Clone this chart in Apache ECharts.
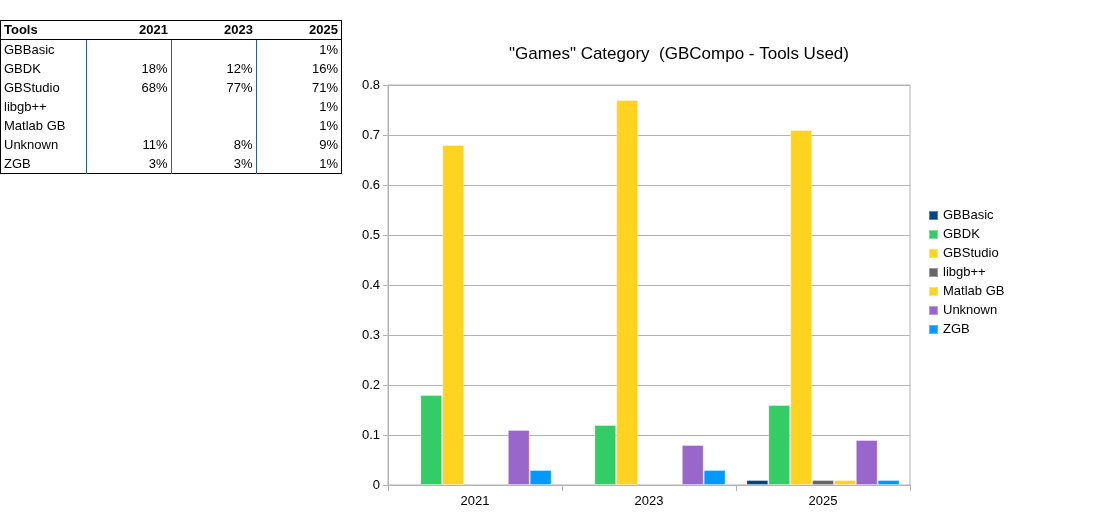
<!DOCTYPE html>
<html>
  <head>
    <meta charset="utf-8" />
    <title>Games Category (GBCompo - Tools Used)</title>
    <script src="https://cdn.jsdelivr.net/npm/echarts@6/dist/echarts.min.js"></script>
    <style>
      * {
        padding: 0;
        margin: 0;
      }
      body {
        width: 1109px;
        height: 527px;
        background: #fff;
        position: relative;
        font-family: "Liberation Sans", Arial, sans-serif;
      }
      #chart-panel {
        position: absolute;
        left: 0;
        top: 0;
        width: 1109px;
        height: 527px;
      }
      #data-table {
        position: absolute;
        left: 0;
        top: 20px;
        border-collapse: collapse;
        border: 1.5px solid #000;
        font-size: 13px;
        color: #000;
      }
      #data-table td,
      #data-table th {
        height: 19px;
        padding: 0 3px;
        line-height: 19px;
        white-space: nowrap;
      }
      #data-table th {
        height: 18px;
        line-height: 18px;
        border-bottom: 1.5px solid #000;
        text-align: right;
      }
      #data-table th:first-child,
      #data-table td:first-child {
        text-align: left;
      }
      #data-table td {
        text-align: right;
        border-left: 1px solid #2b5d8f;
      }
      #data-table td:first-child {
        border-left: none;
      }
    </style>
  </head>
  <body>
    <div id="chart-panel"></div>
    <table id="data-table"></table>

    <script type="text/javascript">
      // 数据
      const years = ["2021", "2023", "2025"];
      const tools = ["GBBasic", "GBDK", "GBStudio", "libgb++", "Matlab GB", "Unknown", "ZGB"];
      const GBBasic = [null, null, 0.01];
      const GBDK = [0.18, 0.12, 0.16];
      const GBStudio = [0.68, 0.77, 0.71];
      const libgbpp = [null, null, 0.01];
      const MatlabGB = [null, null, 0.01];
      const Unknown = [0.11, 0.08, 0.09];
      const ZGB = [0.03, 0.03, 0.01];
      const colors = ["#004586", "#33cc66", "#ffd320", "#666666", "#ffd320", "#9966cc", "#0099ff"];

      const values = [GBBasic, GBDK, GBStudio, libgbpp, MatlabGB, Unknown, ZGB];

      // 左上角表格
      var table = document.getElementById("data-table");
      var colWidths = [79, 79, 79, 79];
      var head = "<tr><th style='width:" + colWidths[0] + "px'>Tools</th>";
      years.forEach(function (y, i) {
        head += "<th style='width:" + colWidths[i + 1] + "px'>" + y + "</th>";
      });
      head += "</tr>";
      var body = "";
      tools.forEach(function (t, i) {
        body += "<tr><td>" + t + "</td>";
        values[i].forEach(function (v) {
          body += "<td>" + (v == null ? "" : Math.round(v * 100) + "%") + "</td>";
        });
        body += "</tr>";
      });
      table.innerHTML = head + body;

      var myChart = echarts.init(document.getElementById("chart-panel"));

      var option = {
        animation: false,
        color: colors,
        textStyle: {
          fontFamily: "Liberation Sans",
        },
        title: {
          text: '"Games" Category  (GBCompo - Tools Used)',
          left: 674,
          textAlign: "center",
          top: 41,
          textStyle: {
            fontSize: 17,
            fontWeight: "normal",
            color: "#000",
          },
        },
        legend: {
          orient: "vertical",
          left: 923,
          top: 204,
          icon: "rect",
          itemWidth: 9,
          itemHeight: 9,
          itemGap: 6,
          textStyle: {
            fontSize: 13,
            color: "#000",
          },
          data: tools,
        },
        grid: {
          left: 388,
          right: 199,
          top: 85,
          bottom: 42,
          show: true,
          borderColor: "#b3b3b3",
          borderWidth: 1,
        },
        xAxis: {
          type: "category",
          data: years,
          axisLine: { lineStyle: { color: "#b3b3b3" } },
          axisTick: { show: true, length: 6, lineStyle: { color: "#b3b3b3" } },
          axisLabel: { color: "#000", fontSize: 13, margin: 10 },
          splitLine: { show: false },
        },
        yAxis: {
          type: "value",
          min: 0,
          max: 0.8,
          interval: 0.1,
          axisLine: { show: true, lineStyle: { color: "#b3b3b3" } },
          axisTick: { show: true, length: 5, lineStyle: { color: "#b3b3b3" } },
          axisLabel: {
            color: "#000",
            fontSize: 13,
            margin: 8,
            formatter: function (v) {
              return v === 0 ? "0" : String(Math.round(v * 10) / 10);
            },
          },
          splitLine: { lineStyle: { color: "#b3b3b3" } },
        },
        series: tools.map(function (t, i) {
          return {
            name: t,
            type: "bar",
            data: values[i],
            barGap: "0%",
            barCategoryGap: "12%",
            itemStyle: {
              borderColor: "rgba(255,255,255,0.35)",
              borderWidth: 1,
            },
          };
        }),
      };

      myChart.setOption(option);
      window.addEventListener("resize", myChart.resize);
    </script>
  </body>
</html>
